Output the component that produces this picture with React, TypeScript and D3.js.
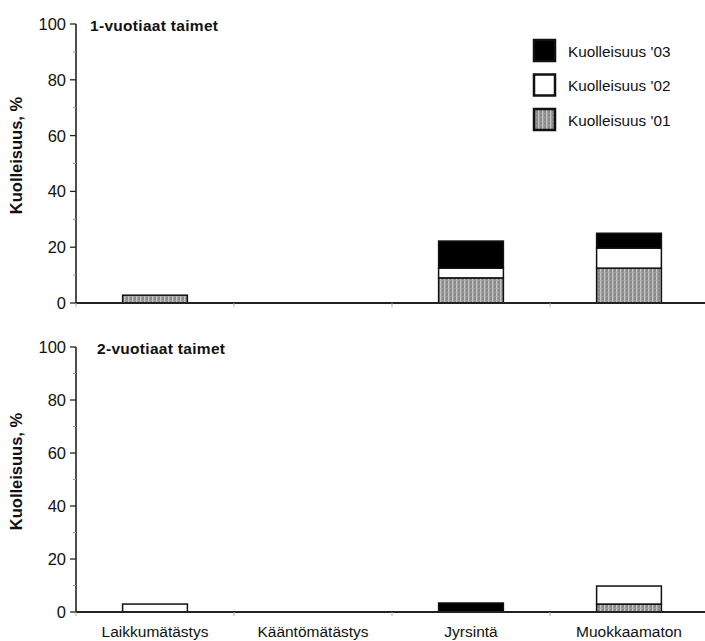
import React from "react";
import * as d3 from "d3";

const categories = ["Laikkumätästys", "Kääntömätästys", "Jyrsintä", "Muokkaamaton"];
const seriesKeys = ["k01", "k02", "k03"];
const seriesLabels = ["Kuolleisuus '01", "Kuolleisuus '02", "Kuolleisuus '03"];

// 1-vuotiaat
const top01 = [2.8, 0, 9, 12.5];
const top02 = [0, 0, 3.5, 7.2];
const top03 = [0, 0, 9.7, 5.3];
// 2-vuotiaat
const bot01 = [0, 0, 0, 3];
const bot02 = [3, 0, 0, 6.8];
const bot03 = [0, 0, 3.4, 0];

const yTicks = [0, 20, 40, 60, 80, 100];
const yMinor = [10, 30, 50, 70, 90];

const W = 705;
const H = 641;
const FONT = "Arial, 'Liberation Sans', sans-serif";

const fills: Record<string, string> = {
  k01: "url(#grid01)",
  k02: "#fff",
  k03: "#000",
};

const x = d3
  .scaleBand<string>()
  .domain(categories)
  .range([76, 708])
  .paddingInner(0.59)
  .paddingOuter(0.295);

const step = x.step();
const boundaries = categories.map((_, i) => 76 + i * step);

function Panel({ title, titleX, top, bottom, rows, showLegend, showLabels }: any) {
  const y = d3.scaleLinear().domain([0, 100]).range([bottom, top]);
  const table = categories.map((c, i) => ({
    cat: c,
    k01: rows[0][i],
    k02: rows[1][i],
    k03: rows[2][i],
  }));
  const stacked = d3.stack<any>().keys(seriesKeys)(table);

  return (
    <g>
      {/* bars */}
      {stacked.map((layer) => (
        <g key={layer.key}>
          {layer.map((d, i) =>
            d[1] - d[0] > 0 ? (
              <rect
                key={i}
                x={x(d.data.cat)}
                y={y(d[1])}
                width={x.bandwidth()}
                height={y(d[0]) - y(d[1])}
                fill={fills[layer.key]}
                stroke="#111"
                strokeWidth={1.5}
              />
            ) : null
          )}
        </g>
      ))}

      {/* y axis */}
      <line x1={76} x2={76} y1={y(100)} y2={y(0)} stroke="#222" strokeWidth={1.6} />
      {yTicks.map((t) => (
        <g key={t}>
          <line x1={70} x2={76} y1={y(t)} y2={y(t)} stroke="#222" strokeWidth={1.3} />
          <text
            x={66}
            y={y(t)}
            dy="0.36em"
            textAnchor="end"
            fontSize={16.5}
            fill="#111"
            fontFamily={FONT}
          >
            {t}
          </text>
        </g>
      ))}
      {yMinor.map((t) => (
        <line key={t} x1={73} x2={76} y1={y(t)} y2={y(t)} stroke="#999" strokeWidth={1} />
      ))}

      {/* x axis */}
      <line x1={76} x2={W} y1={y(0)} y2={y(0)} stroke="#222" strokeWidth={1.8} />
      {boundaries.map((b, i) => (
        <line key={i} x1={b} x2={b} y1={y(0)} y2={y(0) + 4} stroke="#aaa" strokeWidth={1} />
      ))}

      {/* titles */}
      <text
        x={titleX}
        y={top + 7}
        fontSize={15.5}
        fontWeight="bold"
        fill="#111"
        fontFamily={FONT}
        letterSpacing={0.3}
      >
        {title}
      </text>
      <text
        transform={`translate(22, ${(top + bottom) / 2 - 8}) rotate(-90)`}
        textAnchor="middle"
        fontSize={16.5}
        fontWeight="bold"
        fill="#111"
        fontFamily={FONT}
      >
        Kuolleisuus, %
      </text>

      {showLabels &&
        categories.map((c) => (
          <text
            key={c}
            x={(x(c) as number) + x.bandwidth() / 2}
            y={bottom + 25}
            textAnchor="middle"
            fontSize={15.5}
            fill="#111"
            fontFamily={FONT}
          >
            {c}
          </text>
        ))}

      {showLegend &&
        [2, 1, 0].map((si, j) => (
          <g key={si} transform={`translate(534, ${40 + j * 34.5})`}>
            <rect
              width={21}
              height={21}
              fill={fills[seriesKeys[si]]}
              stroke="#111"
              strokeWidth={2.5}
            />
            <text
              x={34}
              y={11}
              dy="0.36em"
              fontSize={15.3}
              fill="#111"
              fontFamily={FONT}
            >
              {seriesLabels[si]}
            </text>
          </g>
        ))}
    </g>
  );
}

export default function App() {
  return (
    <svg
      width={W}
      height={H}
      style={{ position: "absolute", left: 0, top: 0, background: "#fff" }}
    >
      <defs>
        <pattern id="grid01" width={4} height={4} patternUnits="userSpaceOnUse">
          <rect width={4} height={4} fill="#8a8a8a" />
          <rect x={0} width={1.3} height={4} fill="#c8c8c8" />
          <rect y={0} width={4} height={0.6} fill="#a8a8a8" />
        </pattern>
      </defs>
      <Panel
        title="1-vuotiaat taimet"
        titleX={90}
        top={24}
        bottom={303}
        rows={[top01, top02, top03]}
        showLegend
        showLabels={false}
      />
      <Panel
        title="2-vuotiaat taimet"
        titleX={97}
        top={347}
        bottom={612}
        rows={[bot01, bot02, bot03]}
        showLegend={false}
        showLabels
      />
    </svg>
  );
}
